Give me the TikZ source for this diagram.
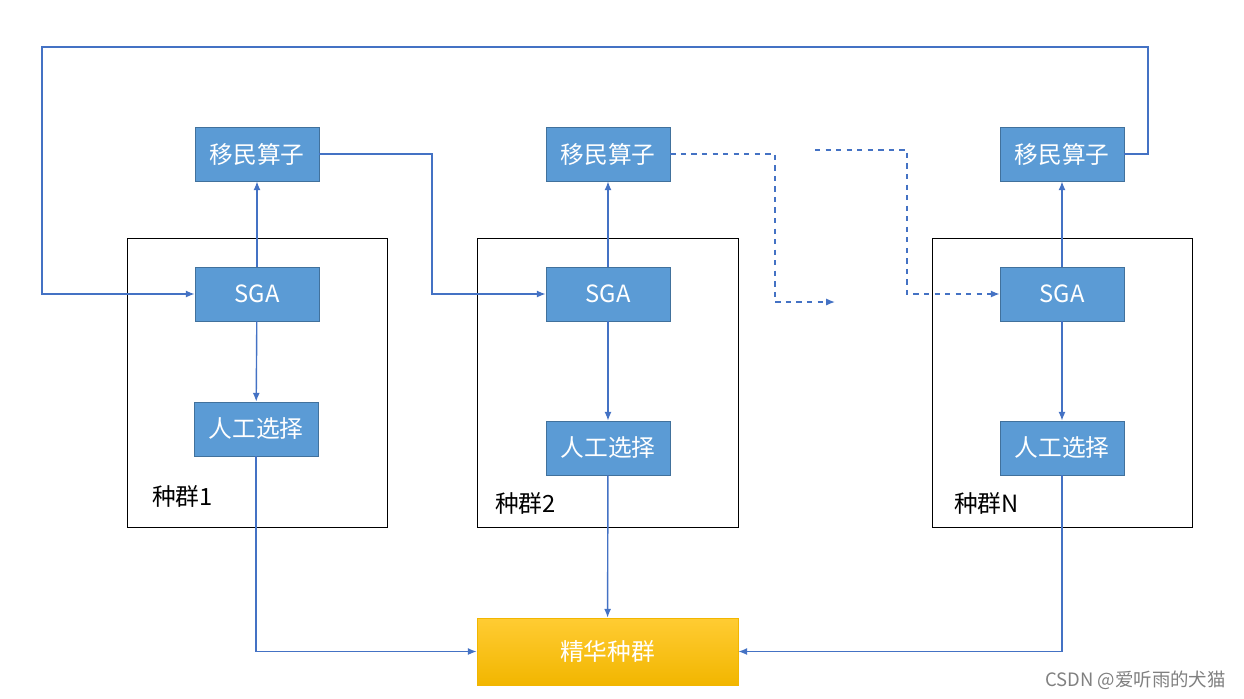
\documentclass[tikz,border=0pt]{standalone}
\usepackage{fontspec}
\setmainfont{Noto Sans CJK SC}
\usetikzlibrary{positioning, arrows.meta}
\definecolor{boxblue}{HTML}{5B9BD5}
\definecolor{boxedge}{HTML}{41719C}
\definecolor{linkblue}{HTML}{4472C4}
\definecolor{goldtop}{HTML}{FFCC33}
\definecolor{goldbot}{HTML}{F2B600}
\begin{document}
\begin{tikzpicture}[x=0.02cm,y=-0.02cm,
    op/.style={draw=boxedge,fill=boxblue,text=white,minimum width=124*0.02cm,minimum height=54*0.02cm,inner sep=0pt,font=\fontsize{13.5}{14}\selectfont},
    pop/.style={draw=black,line width=0.5pt,inner sep=0pt},
    flow/.style={draw=linkblue,line width=0.8pt,-{Latex[length=5pt,width=4pt]}},
    gap/.style={flow,dashed}]
    \useasboundingbox (0,0) rectangle (1244,698);
    % populations
    \node[pop,minimum width=260*0.02cm,minimum height=289*0.02cm] (p1) at (257,382.5) {};
    \node[pop,minimum width=261*0.02cm,minimum height=289*0.02cm] (p2) at (607.5,382.5) {};
    \node[pop,minimum width=260*0.02cm,minimum height=289*0.02cm] (pN) at (1062,382.5) {};
    % column 1
    \node[op] (m1) at (257,154) {移民算子};
    \node[op] (s1) at (257,294) {SGA};
    \node[op] (r1) at (256,429) {人工选择};
    % column 2
    \node[op] (m2) at (608,154) {移民算子};
    \node[op] (s2) at (608,294) {SGA};
    \node[op] (r2) at (608,448) {人工选择};
    % column N
    \node[op] (mN) at (1062,154) {移民算子};
    \node[op] (sN) at (1062,294) {SGA};
    \node[op] (rN) at (1062,448) {人工选择};
    % elite
    \node[draw=goldbot,top color=goldtop,bottom color=goldbot,text=white,minimum width=261*0.02cm,minimum height=67*0.02cm,inner sep=0pt,font=\fontsize{13.5}{14}\selectfont] (e) at (607.5,651.5) {精华种群};
    % labels
    \node[anchor=west,font=\fontsize{13.5}{14}\selectfont] (l1) at (146,496) {种群1};
    \node[anchor=west,font=\fontsize{13.5}{14}\selectfont] (l2) at (489,503) {种群2};
    \node[anchor=west,font=\fontsize{13.5}{14}\selectfont] (lN) at (948,503) {种群N};
    \node[anchor=east,text=gray,font=\fontsize{10.5}{11}\selectfont] (wm) at (1232,680) {CSDN @爱听雨的犬猫};
    % free ends of the dashed gap
    \coordinate (g1) at (835,302);
    \coordinate (g2) at (815,150);
    % connectors
    \draw[flow] (s1) -- (m1);
    \draw[flow] (s2) -- (m2);
    \draw[flow] (sN) -- (mN);
    \draw[flow] (s1) -- (r1);
    \draw[flow] (s2) -- (r2);
    \draw[flow] (sN) -- (rN);
    \draw[flow] (r1.south) |- (e.west);
    \draw[flow] (r2) -- (e);
    \draw[flow] (rN.south) |- (e.east);
    \draw[flow] (m1.east) -| (432,294) -- (s2.west);
    \draw[gap] (m2.east) -| (775,302) -- (g1);
    \draw[gap] (g2) -| (907,294) -- (sN.west);
    \draw[flow] (mN.east) -| (1148,47) -| (42,294) -- (s1.west);
\end{tikzpicture}
\end{document}
